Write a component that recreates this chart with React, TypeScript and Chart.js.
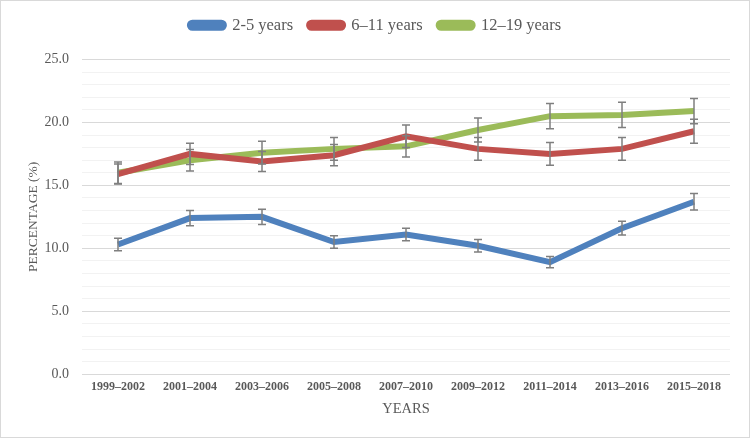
import React, { useRef, useEffect } from "react";
import { Chart, registerables } from "chart.js";

Chart.register(...registerables);

const periods = [
  "1999–2002",
  "2001–2004",
  "2003–2006",
  "2005–2008",
  "2007–2010",
  "2009–2012",
  "2011–2014",
  "2013–2016",
  "2015–2018",
];

const ages25 = [10.3, 12.4, 12.5, 10.5, 11.1, 10.2, 8.9, 11.6, 13.7];
const ages611 = [15.9, 17.5, 16.9, 17.4, 18.9, 17.9, 17.5, 17.9, 19.3];
const ages1219 = [16.0, 17.0, 17.6, 17.9, 18.1, 19.4, 20.5, 20.6, 20.9];

// half-width of the error bars
const err25 = [0.5, 0.6, 0.6, 0.5, 0.5, 0.5, 0.45, 0.55, 0.65];
const err611 = [0.8, 0.85, 0.8, 0.85, 0.9, 0.9, 0.9, 0.9, 0.95];
const err1219 = [0.85, 0.85, 0.9, 0.9, 0.85, 0.95, 1.0, 1.0, 1.0];

const FONT = "'Liberation Serif', 'Times New Roman', serif";
const TEXT = "#595959";

const errorBars = {
  id: "errorBars",
  afterDatasetsDraw(chart: any) {
    const { ctx } = chart;
    const yScale = chart.scales.y;
    ctx.save();
    ctx.strokeStyle = "#7f7f7f";
    ctx.lineWidth = 1.5;
    chart.data.datasets.forEach((ds: any, i: number) => {
      const meta = chart.getDatasetMeta(i);
      const errs: number[] = ds.errors || [];
      meta.data.forEach((pt: any, j: number) => {
        const v = ds.data[j];
        const e = errs[j];
        if (v == null || e == null) return;
        const x = pt.x;
        const top = yScale.getPixelForValue(v + e);
        const bot = yScale.getPixelForValue(v - e);
        ctx.beginPath();
        ctx.moveTo(x, top);
        ctx.lineTo(x, bot);
        ctx.moveTo(x - 4, top);
        ctx.lineTo(x + 4, top);
        ctx.moveTo(x - 4, bot);
        ctx.lineTo(x + 4, bot);
        ctx.stroke();
      });
    });
    ctx.restore();
  },
};

// extra room between the legend and the plot
const legendGap = {
  id: "legendGap",
  beforeInit(chart: any) {
    const fit = chart.legend.fit;
    chart.legend.fit = function () {
      fit.call(this);
      this.height += 16;
    };
  },
};

const App: React.FC = () => {
  const canvasRef = useRef<HTMLCanvasElement | null>(null);
  const chartRef = useRef<Chart | null>(null);

  useEffect(() => {
    if (!canvasRef.current) return;

    const mk = (label: string, data: number[], errors: number[], color: string) => ({
      label,
      data,
      errors,
      borderColor: color,
      backgroundColor: color,
      borderWidth: 6,
      pointRadius: 0,
      pointHoverRadius: 0,
      tension: 0,
    });

    chartRef.current = new Chart(canvasRef.current, {
      type: "line",
      data: {
        labels: periods,
        datasets: [
          mk("2-5 years", ages25, err25, "#4f81bd"),
          mk("6–11 years", ages611, err611, "#c0504d"),
          mk("12–19 years", ages1219, err1219, "#9bbb59"),
        ] as any,
      },
      options: {
        animation: false,
        responsive: false,
        maintainAspectRatio: false,
        layout: { padding: { left: 20, right: 19, top: 0, bottom: 16 } },
        plugins: {
          legend: {
            position: "top",
            labels: {
              font: { family: FONT, size: 16.5 },
              color: TEXT,
              boxWidth: 34,
              boxHeight: 5,
              useBorderRadius: true,
              borderRadius: 2.5,
              padding: 16,
            },
          },
          tooltip: { enabled: false },
        },
        scales: {
          x: {
            offset: true,
            grid: { display: false, drawTicks: false },
            border: { display: false },
            ticks: {
              font: { family: FONT, size: 12, weight: "bold" },
              color: TEXT,
              maxRotation: 0,
              autoSkip: false,
              padding: 6,
            },
            title: {
              display: true,
              text: "YEARS",
              font: { family: FONT, size: 14.5 },
              color: TEXT,
              padding: { top: 0, bottom: 3 },
            },
          },
          y: {
            min: 0,
            max: 25,
            border: { display: false },
            afterFit: (scale: any) => {
              scale.width = 61;
            },
            grid: {
              color: (c: any) => (c.tick && c.tick.value % 5 === 0 ? "#d9d9d9" : "#f2f2f2"),
              lineWidth: 1,
              drawTicks: false,
            },
            ticks: {
              stepSize: 1,
              autoSkip: false,
              padding: 13,
              font: { family: FONT, size: 14 },
              color: TEXT,
              callback: (v: any) => (Number(v) % 5 === 0 ? Number(v).toFixed(1) : ""),
            },
            title: {
              display: true,
              text: "PERCENTAGE (%)",
              font: { family: FONT, size: 13.5 },
              color: TEXT,
              padding: { top: 4, bottom: 5 },
            },
          },
        },
      },
      plugins: [legendGap, errorBars],
    });

    return () => chartRef.current?.destroy();
  }, []);

  return (
    <div
      style={{
        position: "absolute",
        left: 0,
        top: 0,
        width: 750,
        height: 438,
        boxSizing: "border-box",
        border: "1px solid #d9d9d9",
        background: "#fff",
      }}
    >
      <canvas ref={canvasRef} width={748} height={436} />
    </div>
  );
};

export default App;
